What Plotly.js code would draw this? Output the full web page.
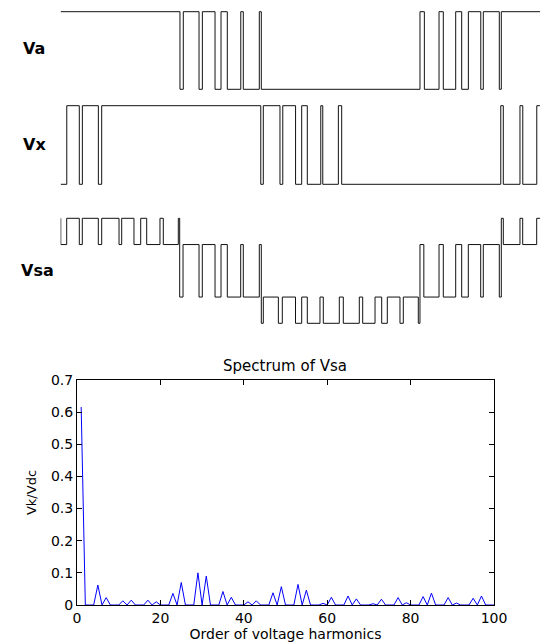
<!DOCTYPE html>
<html>
<head>
<meta charset="utf-8">
<script src="https://cdn.plot.ly/plotly-3.0.1.min.js"></script>
<style>
  html, body { margin: 0; padding: 0; background: #ffffff; }
  #chart { width: 542px; height: 644px; }
</style>
</head>
<body>
<div id="chart"></div>
<script>
// ---------------- DATA ----------------
// Time window of the three switching waveforms, in electrical degrees
const windowStart = 60.15;
const windowEnd = 419.6;

// Va : two-level waveform (1 = high, 0 = low), switching angles in degrees
const vaStartLevel = 1;
const vaSwitchAngles = [149.6, 152.1, 163.9, 166.4, 175.9, 180.4, 185.1, 195.2, 197.1, 209.1, 210.6,
                        329.6, 332.9, 343.9, 347.1, 356.4, 360.9, 365.9, 375.2, 377.1, 389.1, 390.6];

// Vx : two-level waveform (1 = high, 0 = low)
const vxStartLevel = 0;
const vxSwitchAngles = [64.7, 74.1, 76.4, 88.4, 90.9, 210.2, 212.1, 224.6, 226.7, 236.3, 240.9,
                        245.1, 255.2, 256.7, 268.4, 270.9, 390.2, 392.1, 404.6, 406.7, 417.2];

// Vsa : four-level waveform, angle where each level starts
const vsaAngles = [60.15, 60.2, 64.65, 74.1, 76.35, 88.35, 90.9, 103.9, 105.9, 115.1, 120.15, 124.65,
                   134.6, 137.1, 148.35, 149.4, 151.9, 163.9, 166.35, 175.9, 180.4, 185.1, 195.15,
                   197.1, 209.1, 210.6, 212.1, 223.4, 226.35, 236.25, 240.9, 245.1, 254.6, 257.1,
                   269.1, 272.1, 284.1, 286.65, 295.9, 300.9, 305.1, 314.6, 317.1, 328.35, 329.6,
                   332.5, 343.9, 347.1, 356.4, 360.9, 365.85, 375.15, 377.1, 389.1, 390.6, 392.1,
                   404.6, 406.65, 417.15];
const vsaLevels = [2, 1, 2, 1, 2, 1, 2, 1, 2, 1, 2, 1,
                   2, 1, 2, -1, 1, -1, 1, -1, 1, -1, 1,
                   -1, 1, -2, -1, -2, -1, -2, -1, -2, -1, -2,
                   -1, -2, -1, -2, -1, -2, -1, -2, -1, -2, 1,
                   -1, 1, -1, 1, -1, 1, -1, 1, -1, 2, 1,
                   2, 1, 2];

// Spectrum of Vsa : Vk/Vdc for harmonic orders 1..100
const vkVdc = [
  0.616, 0, 0, 0, 0.062, 0, 0.023, 0, 0, 0,
  0.013, 0, 0.015, 0, 0, 0, 0.015, 0, 0.010, 0,
  0, 0, 0.036, 0, 0.070, 0, 0, 0, 0.100, 0,
  0.090, 0, 0, 0, 0.042, 0, 0.024, 0, 0, 0,
  0.010, 0, 0.013, 0, 0, 0, 0.038, 0, 0.057, 0,
  0, 0, 0.064, 0, 0.046, 0, 0, 0, 0.005, 0,
  0.024, 0, 0, 0, 0.028, 0, 0.019, 0, 0, 0,
  0.004, 0, 0.018, 0, 0, 0, 0.023, 0, 0.007, 0,
  0, 0, 0.026, 0, 0.037, 0, 0, 0, 0.023, 0,
  0.006, 0, 0, 0, 0.021, 0, 0.028, 0, 0, 0
];
const harmonicOrder = vkVdc.map((_, i) => i + 1);

const waveLabels = ['Va', 'Vx', 'Vsa'];
const spectrumTitle = 'Spectrum of Vsa';
const xAxisTitle = 'Order of voltage harmonics';
const yAxisTitle = 'Vk/Vdc';

// ---------------- BUILD ----------------
const W = 542, H = 644;
const FONT = 'DejaVu Sans, Arial, sans-serif';

function toggleLevels(start, n) {
  const out = [start];
  for (let i = 0; i < n; i++) out.push(1 - out[out.length - 1]);
  return out;
}
function stepXY(angles, levels, end) {
  return { x: angles.concat([end]), y: levels.concat([levels[levels.length - 1]]) };
}

const vaXY = stepXY([windowStart].concat(vaSwitchAngles), toggleLevels(vaStartLevel, vaSwitchAngles.length), windowEnd);
const vxXY = stepXY([windowStart].concat(vxSwitchAngles), toggleLevels(vxStartLevel, vxSwitchAngles.length), windowEnd);
const vsaXY = stepXY(vsaAngles, vsaLevels, windowEnd);

const waveLine = { color: '#111111', width: 1, shape: 'hv' };

const traces = [
  { type: 'scatter', mode: 'lines', x: vaXY.x, y: vaXY.y, xaxis: 'x', yaxis: 'y', line: waveLine, hoverinfo: 'skip' },
  { type: 'scatter', mode: 'lines', x: vxXY.x, y: vxXY.y, xaxis: 'x', yaxis: 'y2', line: waveLine, hoverinfo: 'skip' },
  { type: 'scatter', mode: 'lines', x: vsaXY.x, y: vsaXY.y, xaxis: 'x', yaxis: 'y3', line: waveLine, hoverinfo: 'skip' },
  { type: 'scatter', mode: 'lines', x: harmonicOrder, y: vkVdc, xaxis: 'x2', yaxis: 'y4',
    line: { color: '#0000ff', width: 1 }, hoverinfo: 'skip' }
];

// axis whose value valHi sits at pixel pxHi and valLo at pxLo (pixels from top)
function waveY(valHi, pxHi, valLo, pxLo, domTop, domBot) {
  const k = (pxLo - pxHi) / (valHi - valLo);
  return {
    domain: [1 - domBot / H, 1 - domTop / H],
    range: [valLo - (domBot - pxLo) / k, valHi + (pxHi - domTop) / k],
    visible: false, fixedrange: true, anchor: 'x'
  };
}

const tickFont = { family: FONT, size: 14, color: '#000000' };

const layout = {
  width: W, height: H,
  margin: { l: 0, r: 0, t: 0, b: 0 },
  paper_bgcolor: '#ffffff', plot_bgcolor: 'rgba(0,0,0,0)',
  showlegend: false,
  xaxis: { domain: [60.5 / W, 540.5 / W], range: [60, 420], visible: false, fixedrange: true, anchor: 'y' },
  yaxis: waveY(1, 11.7, 0, 89.3, 2, 97),
  yaxis2: waveY(1, 105.7, 0, 184.3, 99, 196),
  yaxis3: waveY(2, 218.3, -2, 323.3, 204, 336),
  xaxis2: {
    domain: [77 / W, 494 / W], range: [0, 100], anchor: 'y4',
    dtick: 20, tick0: 0, ticks: 'inside', ticklen: 5, tickcolor: '#000', tickwidth: 1,
    showline: true, linecolor: '#000', linewidth: 1, mirror: 'ticks',
    showgrid: false, zeroline: false, tickfont: tickFont,
    title: { text: xAxisTitle, font: { family: FONT, size: 14, color: '#000' }, standoff: 1 }
  },
  yaxis4: {
    domain: [1 - 605 / H, 1 - 380 / H], range: [0, 0.7], anchor: 'x2',
    dtick: 0.1, tick0: 0, ticks: 'inside', ticklen: 5, tickcolor: '#000', tickwidth: 1,
    showline: true, linecolor: '#000', linewidth: 1, mirror: 'ticks',
    showgrid: false, zeroline: false, tickfont: tickFont,
    title: { text: yAxisTitle, font: { family: FONT, size: 13, color: '#000' }, standoff: 11 }
  },
  title: {
    text: spectrumTitle,
    font: { family: FONT, size: 15, color: '#000' },
    x: 285 / W, xanchor: 'center', xref: 'paper',
    y: 1 - 366 / H, yanchor: 'middle', yref: 'paper'
  },
  annotations: [
    { text: '<b>' + waveLabels[0] + '</b>', x: 21 / W, y: 1 - 48 / H },
    { text: '<b>' + waveLabels[1] + '</b>', x: 21 / W, y: 1 - 145 / H },
    { text: '<b>' + waveLabels[2] + '</b>', x: 19 / W, y: 1 - 271 / H }
  ].map(a => Object.assign(a, {
    xref: 'paper', yref: 'paper', xanchor: 'left', yanchor: 'middle', showarrow: false,
    font: { family: FONT, size: 16, color: '#000' }
  }))
};

Plotly.newPlot('chart', traces, layout, { staticPlot: true, displayModeBar: false });
</script>
</body>
</html>
